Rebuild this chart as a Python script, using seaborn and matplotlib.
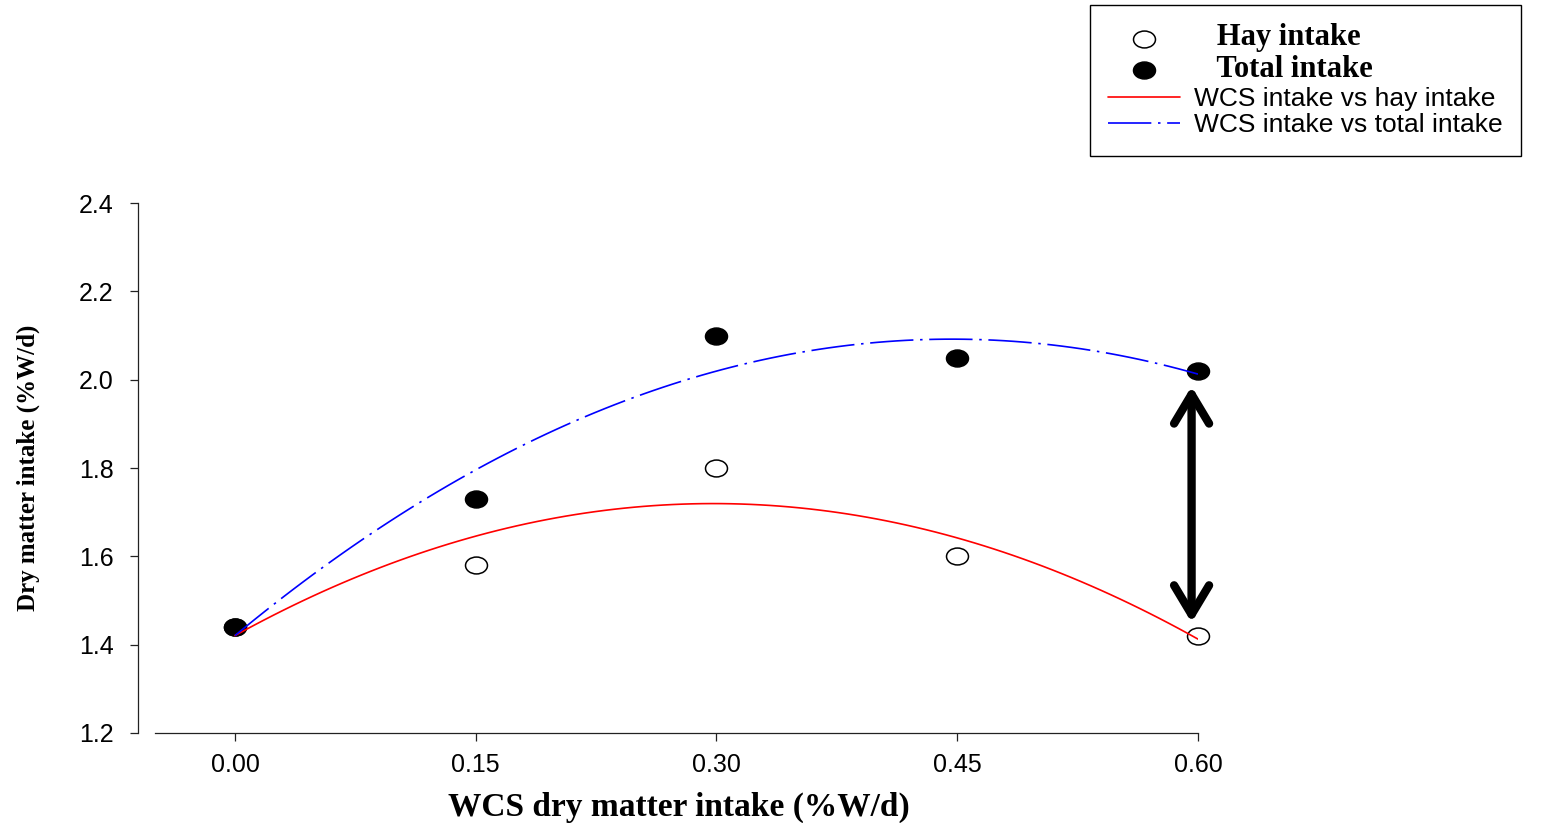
import numpy as np
import pandas as pd
import matplotlib.pyplot as plt
from matplotlib.path import Path
from matplotlib.transforms import Affine2D
import seaborn as sns

# values
wcs_intake = [0.00, 0.15, 0.30, 0.45, 0.60]
hay_intake = [1.44, 1.58, 1.80, 1.60, 1.42]
total_intake = [1.44, 1.73, 2.10, 2.05, 2.02]

x_ticks = [0.00, 0.15, 0.30, 0.45, 0.60]
y_ticks = [1.2, 1.4, 1.6, 1.8, 2.0, 2.2, 2.4]

sns.set_style('ticks')
plt.rcParams['font.family'] = ['Liberation Sans', 'DejaVu Sans']
plt.rcParams.update({'text.color': 'black', 'axes.labelcolor': 'black',
                     'xtick.color': 'black', 'ytick.color': 'black'})

df = pd.DataFrame({'wcs': wcs_intake, 'hay': hay_intake, 'total': total_intake})

# the source picture is stretched sideways, so markers are ellipses
ellipse = Path.unit_circle().transformed(Affine2D().scale(1.3, 1.0))

fig = plt.figure(figsize=(15.47, 8.23), dpi=100)
ax = fig.add_axes([138 / 1547, 1 - 733 / 823, 1060 / 1547, 530 / 823])

sns.scatterplot(data=df, x='wcs', y='hay', marker=ellipse, s=250, color='white',
                edgecolor='black', linewidth=1.1, legend=False, ax=ax, zorder=2,
                label='   Hay intake', clip_on=False)
sns.scatterplot(data=df, x='wcs', y='total', marker=ellipse, s=250, color='black',
                edgecolor='black', linewidth=1.1, legend=False, ax=ax, zorder=2,
                label='   Total intake', clip_on=False)

sns.regplot(data=df, x='wcs', y='hay', order=2, ci=None, scatter=False, ax=ax,
            line_kws=dict(color='red', lw=1.2, zorder=3))
red_line = ax.lines[-1]
red_line.set_label('WCS intake vs hay intake')
sns.regplot(data=df, x='wcs', y='total', order=2, ci=None, scatter=False, ax=ax,
            line_kws=dict(color='blue', lw=1.2, zorder=3, linestyle=(0, (26, 4, 1.5, 4))))
blue_line = ax.lines[-1]
blue_line.set_label('WCS intake vs total intake')

# double arrow between the two end points
xa = wcs_intake[-1] - 0.004
ax.annotate('', xy=(xa, total_intake[-1] - 0.035), xytext=(xa, hay_intake[-1] + 0.03),
            arrowprops=dict(arrowstyle='<->, head_length=1.5, head_width=0.9',
                            lw=6, color='black', shrinkA=0, shrinkB=0,
                            mutation_scale=14))

ax.set_xlim(-0.0604, 0.6)
ax.set_ylim(1.2, 2.4)
ax.set_xticks(x_ticks, labels=[f'{v:.2f}' for v in x_ticks])
ax.set_yticks(y_ticks, labels=[f'{v:.1f}' for v in y_ticks])
ax.tick_params(axis='both', labelsize=18, length=5.5, width=0.9, color='#222222')
ax.tick_params(axis='y', pad=12)
ax.tick_params(axis='x', pad=9)

sns.despine(ax=ax)
ax.spines['left'].set_bounds(1.2, 2.4)
ax.spines['bottom'].set_bounds(-0.05, 0.6)
for s in ('left', 'bottom'):
    ax.spines[s].set_linewidth(0.9)
    ax.spines[s].set_color('#222222')

ax.set_xlabel('WCS dry matter intake (%W/d)', family='Liberation Serif',
              fontweight='bold', fontsize=24, va='center')
ax.xaxis.set_label_coords((679 - 138) / 1060, -(807 - 733) / 530)
ax.set_ylabel('Dry matter intake (%W/d)', family='Liberation Serif',
              fontweight='bold', fontsize=18, va='center')
ax.yaxis.set_label_coords((28 - 138) / 1060, 0.5)

handles, labels = ax.get_legend_handles_labels()
lookup = dict(zip(labels, handles))
order = ['   Hay intake', '   Total intake', 'WCS intake vs hay intake',
         'WCS intake vs total intake']
leg = fig.legend([lookup[k] for k in order], order, loc='upper left',
                 bbox_to_anchor=(1090 / 1547, 1 - 5 / 823), fontsize=19,
                 frameon=True, fancybox=False, framealpha=1, edgecolor='black',
                 borderpad=0.7, labelspacing=0.1, handlelength=2.7,
                 handletextpad=0.55, borderaxespad=0)
leg.get_frame().set_linewidth(1.0)
for t in leg.get_texts()[:2]:
    t.set_fontfamily(['Liberation Serif'])
    t.set_fontweight('bold')
    t.set_fontsize(22)

fig.savefig('out.png', dpi=100)
